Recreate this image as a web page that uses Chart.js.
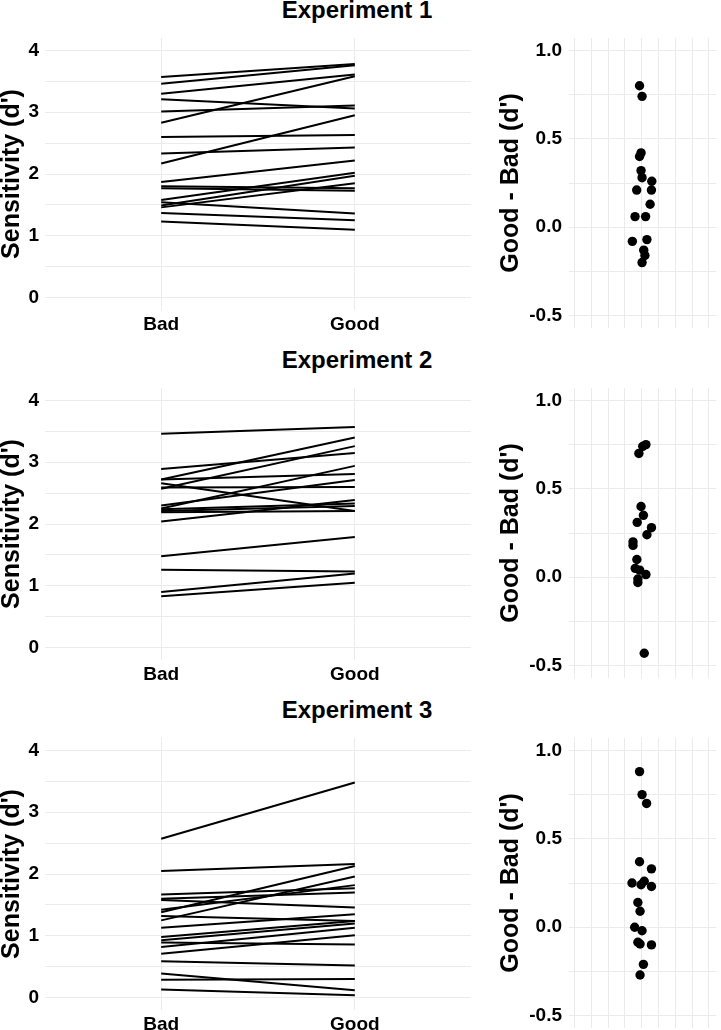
<!DOCTYPE html>
<html lang="en">
  <head>
    <meta charset="UTF-8" />
    <script src="https://cdn.jsdelivr.net/npm/chart.js@4.4.0/dist/chart.umd.min.js"></script>
    <title>Sensitivity, Good vs Bad</title>
    <style>
      body {
        margin: 0;
        width: 721px;
        height: 1030px;
        overflow: hidden;
        position: relative;
        background: #fff;
        font-family: "Liberation Sans", Arial, sans-serif;
      }
      .title {
        position: absolute;
        left: 0;
        width: 714px;
        text-align: center;
        font-size: 24px;
        line-height: 24px;
        font-weight: bold;
        color: #000;
      }
      canvas { position: absolute; }
    </style>
  </head>
  <body>
    <div class="title" style="top: -2px">Experiment 1</div>
    <canvas id="slope1" width="480" height="310" style="left: 0; top: 30px"></canvas>
    <canvas id="diff1" width="241" height="310" style="left: 480px; top: 30px"></canvas>

    <div class="title" style="top: 348px">Experiment 2</div>
    <canvas id="slope2" width="480" height="310" style="left: 0; top: 380px"></canvas>
    <canvas id="diff2" width="241" height="310" style="left: 480px; top: 380px"></canvas>

    <div class="title" style="top: 698px">Experiment 3</div>
    <canvas id="slope3" width="480" height="310" style="left: 0; top: 730px"></canvas>
    <canvas id="diff3" width="241" height="310" style="left: 480px; top: 730px"></canvas>

    <script>
      // tick labels / grid positions
      const conditions = ["Bad", "Good"];
      const sensitivityTicks = [0, 1, 2, 3, 4];
      const sensitivityGrid = [0, 0.5, 1, 1.5, 2, 2.5, 3, 3.5, 4];
      const differenceTicks = [-0.5, 0, 0.5, 1];
      const differenceGrid = [-0.5, -0.25, 0, 0.25, 0.5, 0.75, 1];
      const jitterGrid = [0.6, 0.7, 0.8, 0.9, 1, 1.1, 1.2, 1.3, 1.4];

      // Experiment 1
      const exp1Bad = [3.57, 3.46, 3.30, 3.21, 3.01, 2.83, 2.60, 2.33, 2.17, 1.87, 1.80, 1.77, 1.58, 1.545, 1.49, 1.46, 1.37, 1.23];
      const exp1Good = [3.78, 3.76, 3.61, 3.06, 3.11, 3.58, 2.63, 2.43, 2.95, 2.22, 1.77, 1.73, 2.02, 1.36, 1.97, 1.85, 1.25, 1.10];
      const exp1Diff = [0.80, 0.74, 0.42, 0.40, 0.32, 0.28, 0.26, 0.21, 0.21, 0.13, 0.06, 0.06, -0.08, -0.07, -0.13, -0.16, -0.20];
      const exp1Jitter = [0.987, 1.002, 0.996, 0.987, 0.996, 1.002, 1.06, 0.97, 1.058, 1.05, 0.96, 1.023, 0.944, 1.031, 1.012, 1.019, 1.002];

      // Experiment 2
      const exp2Bad = [3.46, 2.89, 2.72, 2.72, 2.66, 2.59, 2.57, 2.30, 2.25, 2.24, 2.21, 2.19, 2.04, 1.48, 1.26, 0.90, 0.83];
      const exp2Good = [3.57, 3.15, 3.40, 2.81, 2.21, 2.60, 3.26, 2.71, 2.94, 2.33, 2.29, 2.21, 2.39, 1.79, 1.23, 1.20, 1.05];
      const exp2Diff = [0.75, 0.74, 0.70, 0.40, 0.35, 0.31, 0.28, 0.24, 0.20, 0.18, 0.10, 0.05, 0.04, 0.015, -0.01, -0.03, -0.43];
      const exp2Jitter = [1.025, 1.006, 0.983, 0.996, 1.01, 0.973, 1.058, 1.031, 0.948, 0.948, 0.971, 0.961, 0.988, 1.025, 0.977, 0.977, 1.015];

      // Experiment 3
      const exp3Bad = [2.57, 2.05, 1.67, 1.60, 1.58, 1.42, 1.38, 1.32, 1.25, 1.13, 0.98, 0.93, 0.89, 0.82, 0.71, 0.59, 0.39, 0.29, 0.13];
      const exp3Good = [3.48, 2.16, 1.77, 1.70, 1.46, 1.82, 2.13, 1.24, 1.96, 1.35, 1.24, 1.20, 0.86, 1.13, 1.01, 0.52, 0.12, 0.30, 0.04];
      const exp3Diff = [0.88, 0.75, 0.70, 0.37, 0.33, 0.25, 0.26, 0.24, 0.23, 0.14, 0.09, 0.00, -0.02, -0.085, -0.095, -0.10, -0.21, -0.27];
      const exp3Jitter = [0.987, 1.002, 1.029, 0.987, 1.058, 0.942, 1.015, 0.996, 1.058, 0.977, 0.99, 0.958, 1.002, 0.977, 0.99, 1.058, 1.01, 0.99];

      Chart.defaults.font.family = "'Liberation Sans', Arial, sans-serif";
      Chart.defaults.color = "#000";

      const gridColor = "#ebebeb";
      const tickFont = { size: 19, weight: "bold" };
      const axisTitleFont = { size: 25, weight: "bold", lineHeight: 1 };

      // force a fixed axis size and drop the label padding chart.js adds at the ends
      const fixSize = (w, h) => (s) => {
        if (w != null) s.width = w;
        if (h != null) s.height = h;
        s.paddingTop = 0;
        s.paddingBottom = 0;
        s.paddingLeft = 0;
        s.paddingRight = 0;
      };

      const drawSlopes = (id, bad, good) => {
        const datasets = bad.map((b, i) => ({
          data: [{ x: 1, y: b }, { x: 2, y: good[i] }],
          borderColor: "#000",
          borderWidth: 2,
          pointRadius: 0,
        }));
        new Chart(document.getElementById(id), {
          type: "line",
          data: { datasets },
          options: {
            responsive: false,
            animation: false,
            layout: { padding: { top: 8, right: 9 } },
            plugins: { legend: { display: false }, tooltip: { enabled: false } },
            scales: {
              x: {
                type: "linear",
                min: 0.4,
                max: 2.6,
                afterBuildTicks: (s) => { s.ticks = [{ value: 1 }, { value: 2 }]; },
                afterFit: fixSize(null, 30),
                grid: { color: gridColor, drawTicks: false },
                border: { display: false },
                ticks: { font: tickFont, padding: 3, autoSkip: false, maxRotation: 0, callback: (v) => conditions[v - 1] },
              },
              y: {
                min: -0.2,
                max: 4.2,
                afterBuildTicks: (s) => { s.ticks = sensitivityGrid.map((v) => ({ value: v })); },
                afterFit: fixSize(45, null),
                grid: { color: gridColor, drawTicks: false },
                border: { display: false },
                ticks: { font: tickFont, padding: 6, autoSkip: false, callback: (v) => (sensitivityTicks.includes(v) ? String(v) : "") },
                title: { display: true, text: "Sensitivity (d')", font: axisTitleFont, padding: { top: 0, bottom: 0 } },
              },
            },
          },
        });
      };

      const drawDiffs = (id, diff, jitter) => {
        new Chart(document.getElementById(id), {
          type: "scatter",
          data: {
            datasets: [{
              data: diff.map((d, i) => ({ x: jitter[i], y: d })),
              pointRadius: 4.7,
              backgroundColor: "#000",
              borderWidth: 0,
            }],
          },
          options: {
            responsive: false,
            animation: false,
            layout: { padding: { top: 8 } },
            plugins: { legend: { display: false }, tooltip: { enabled: false } },
            scales: {
              x: {
                min: 0.566,
                max: 1.445,
                afterBuildTicks: (s) => { s.ticks = jitterGrid.map((v) => ({ value: v })); },
                afterFit: fixSize(null, 12),
                grid: { color: gridColor, drawTicks: false },
                border: { display: false },
                ticks: { display: false },
              },
              y: {
                min: -0.57,
                max: 1.07,
                afterBuildTicks: (s) => { s.ticks = differenceGrid.map((v) => ({ value: v })); },
                afterFit: fixSize(89, null),
                grid: { color: gridColor, drawTicks: false },
                border: { display: false },
                ticks: { font: tickFont, padding: 7, autoSkip: false, callback: (v) => (differenceTicks.includes(v) ? v.toFixed(1) : "") },
                title: { display: true, text: "Good - Bad (d')", font: axisTitleFont, padding: { top: 19, bottom: 0 } },
              },
            },
          },
        });
      };

      drawSlopes("slope1", exp1Bad, exp1Good);
      drawDiffs("diff1", exp1Diff, exp1Jitter);
      drawSlopes("slope2", exp2Bad, exp2Good);
      drawDiffs("diff2", exp2Diff, exp2Jitter);
      drawSlopes("slope3", exp3Bad, exp3Good);
      drawDiffs("diff3", exp3Diff, exp3Jitter);
    </script>
  </body>
</html>
